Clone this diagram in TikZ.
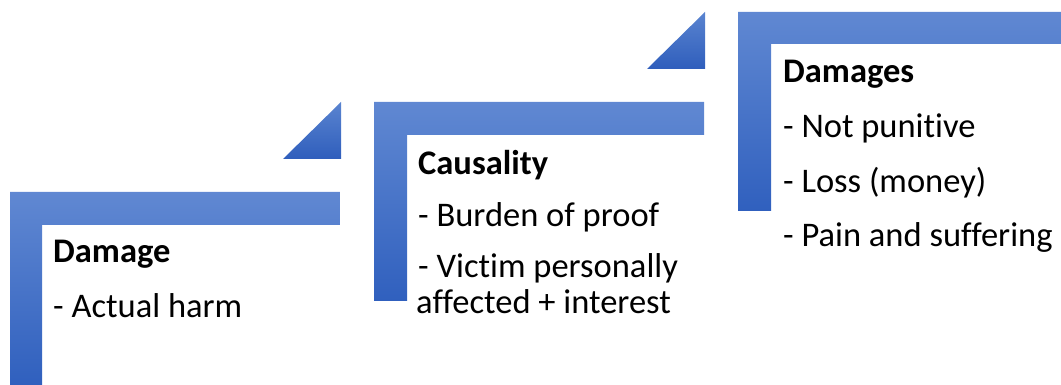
\documentclass[tikz,border=0pt]{standalone}
\usepackage{fontspec}
\setmainfont{Carlito}[Ligatures=NoCommon]
\begin{document}
\begin{tikzpicture}[x=1pt,y=1pt,
  stepshape/.style={top color=stepTop,bottom color=stepBottom,draw=none},
  arrowtri/.style={top color=triTop,bottom color=triBottom,draw=none},
  steptext/.style={anchor=base west,inner sep=0pt,font=\fontsize{34.5}{40}\selectfont},
  stephead/.style={steptext,font=\fontsize{34.5}{40}\selectfont\bfseries}]
\definecolor{stepTop}{HTML}{6088D2}
\definecolor{stepBottom}{HTML}{3060BE}
\definecolor{triTop}{HTML}{5A84D0}
\definecolor{triBottom}{HTML}{2F5EBC}
\useasboundingbox (0,0) rectangle (1061,385);

% step 1
\path[stepshape] (10,193) -- (340,193) -- (340,160) -- (42,160) -- (42,0) -- (10,0) -- cycle;
\path[arrowtri] (283,226) -- (341,283) -- (341,226) -- cycle;
% step 2
\path[stepshape] (374,283) -- (704,283) -- (704,250) -- (407,250) -- (407,84) -- (374,84) -- cycle;
\path[arrowtri] (647,316) -- (705,373) -- (705,316) -- cycle;
% step 3
\path[stepshape] (738,373) -- (1061,373) -- (1061,341) -- (771,341) -- (771,174) -- (738,174) -- cycle;

% texts of step 1
\node[stephead] (h1) at (53,122) {Damage};
\node[steptext] (a1) at (53,67) {- Actual harm};
% texts of step 2
\node[stephead] (h2) at (418,210) {Causality};
\node[steptext] (b1) at (418,158) {- Burden of proof};
\node[steptext] (b2) at (418,107) {- Victim personally};
\node[steptext] (b3) at (416,71) {affected + interest};
% texts of step 3
\node[stephead] (h3) at (783,302) {Damages};
\node[steptext] (c1) at (783,247) {- Not punitive};
\node[steptext] (c2) at (783,192) {- Loss (money)};
\node[steptext] (c3) at (783,138) {- Pain and suffering};
\end{tikzpicture}
\end{document}
